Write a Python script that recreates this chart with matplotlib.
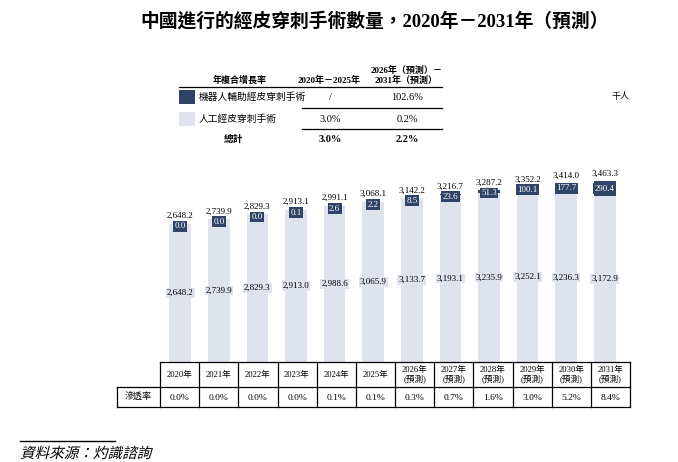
import matplotlib
matplotlib.use('Agg')
import matplotlib.pyplot as plt
from matplotlib.patches import Rectangle, PathPatch
from matplotlib.lines import Line2D
from matplotlib.textpath import TextPath
from matplotlib.font_manager import FontProperties
from matplotlib.transforms import Affine2D
import numpy as np

plt.rcParams['font.family'] = ['Liberation Serif', 'Noto Sans CJK TC']

# data
years = ['2020年', '2021年', '2022年', '2023年', '2024年', '2025年',
         '2026年\n(預測)', '2027年\n(預測)', '2028年\n(預測)', '2029年\n(預測)',
         '2030年\n(預測)', '2031年\n(預測)']
robot = [0.0, 0.0, 0.0, 0.1, 2.6, 2.2, 8.5, 23.6, 51.3, 100.1, 177.7, 290.4]
manual = [2648.2, 2739.9, 2829.3, 2913.0, 2988.6, 3065.9, 3133.7, 3193.1,
          3235.9, 3252.1, 3236.3, 3172.9]
total = [2648.2, 2739.9, 2829.3, 2913.1, 2991.1, 3068.1, 3142.2, 3216.7,
         3287.2, 3352.2, 3414.0, 3463.3]
penetration = ['0.0%', '0.0%', '0.0%', '0.0%', '0.1%', '0.1%', '0.3%', '0.7%',
               '1.6%', '3.0%', '5.2%', '8.4%']
cagr_labels = ['機器人輔助經皮穿刺手術', '人工經皮穿刺手術', '總計']
cagr_hist = ['/', '3.0%', '3.0%']
cagr_fore = ['102.6%', '0.2%', '2.2%']

DARK = '#2f4466'
LIGHT = '#dee3ee'

W, H = 678, 462
fig = plt.figure(figsize=(W / 100, H / 100), dpi=100)


def fx(x):
    return x / W


def fy(y):
    return 1 - y / H


def line(x0, y0, x1, y1, lw=0.9):
    fig.add_artist(Line2D([fx(x0), fx(x1)], [fy(y0), fy(y1)], color='black', lw=lw))


def text(x, y, s, size=6.5, **kw):
    kw.setdefault('ha', 'center')
    kw.setdefault('va', 'center')
    fig.text(fx(x), fy(y), s, fontsize=size, **kw)


# title
text(375, 21, '中國進行的經皮穿刺手術數量，2020年－2031年（預測）', size=13.5, weight='bold')

# CAGR table on top
text(240, 80, '年複合增長率', weight='bold')
text(329, 80, '2020年－2025年', weight='bold')
text(407, 70, '2026年（預測）－', weight='bold')
text(406, 80, '2031年（預測）', weight='bold')
line(179, 87, 442, 87)
rows_y = [97, 119, 139]
for i, y in enumerate(rows_y):
    bold = 'bold' if i == 2 else 'normal'
    if i < 2:
        fig.add_artist(Rectangle((fx(179), fy(y + 7)), fx(16), 14 / H,
                                 color=DARK if i == 0 else LIGHT, lw=0))
        text(199, y, cagr_labels[i], size=7, ha='left')
    else:
        text(233, y, cagr_labels[i], size=7, weight='bold')
    text(330, y, cagr_hist[i], size=7.5, weight=bold)
    text(407, y, cagr_fore[i], size=7.5, weight=bold)
line(302, 108, 442, 108)
line(302, 129, 442, 129)

text(620, 97, '千人', size=6.5)

# bar chart
ax_l, ax_r, ax_b, ax_t = 161, 624, 362, 160
ymax = (ax_b - ax_t) / 0.05226
ax = fig.add_axes([fx(ax_l), fy(ax_b), fx(ax_r - ax_l), (ax_b - ax_t) / H])
x = np.arange(len(years))
bw = 0.56
ax.bar(x, manual, width=bw, color=LIGHT)
ax.bar(x, robot, width=bw, bottom=manual, color=DARK)
ax.set_xlim(-0.5, len(years) - 0.5)
ax.set_ylim(0, ymax)
ax.axis('off')
for i in range(len(years)):
    ax.annotate(f'{total[i]:,.1f}', (x[i], total[i]), xytext=(0, 2.5),
                textcoords='offset points', ha='center', va='bottom', fontsize=6.5)
    ax.text(x[i], manual[i] / 2, f'{manual[i]:,.1f}', ha='center', va='center',
            fontsize=6.5, bbox=dict(boxstyle='square,pad=0.1', fc=LIGHT, ec='none'))
    ly = total[i] - max(robot[i] / 2, 55)
    ax.text(x[i], ly, f'{robot[i]:.1f}', ha='center', va='center', fontsize=6.5,
            color='white', bbox=dict(boxstyle='square,pad=0.15', fc=DARK, ec='none'))

# bottom table
t_l, t_r = 160, 630
cw = (t_r - t_l) / len(years)
y0, y1, y2 = 362, 387, 407
line(t_l, y0, t_r, y0)
line(117, y1, t_r, y1)
line(117, y2, t_r, y2)
line(117, y1, 117, y2)
for i in range(len(years) + 1):
    line(t_l + i * cw, y0, t_l + i * cw, y2)
text(138, (y1 + y2) / 2, '滲透率', size=6.5)
for i in range(len(years)):
    cx = t_l + (i + 0.5) * cw
    text(cx, (y0 + y1) / 2, years[i], size=6.2, linespacing=1.0)
    text(cx, (y1 + y2) / 2 + 1, penetration[i], size=6.8)

# source (slanted glyph outlines to mimic italic)
line(20, 441, 115, 441, lw=1)
tp = TextPath((0, 0), '資料來源：灼識諮詢', size=10.5,
              prop=FontProperties(family='Noto Sans CJK TC'))
tr = (Affine2D().skew_deg(14, 0).scale(1 / 72)
      .translate(20 / 100, (H - 458) / 100) + fig.dpi_scale_trans)
fig.add_artist(PathPatch(tp, transform=tr, color='black', lw=0))

fig.savefig('out.png', dpi=100)
